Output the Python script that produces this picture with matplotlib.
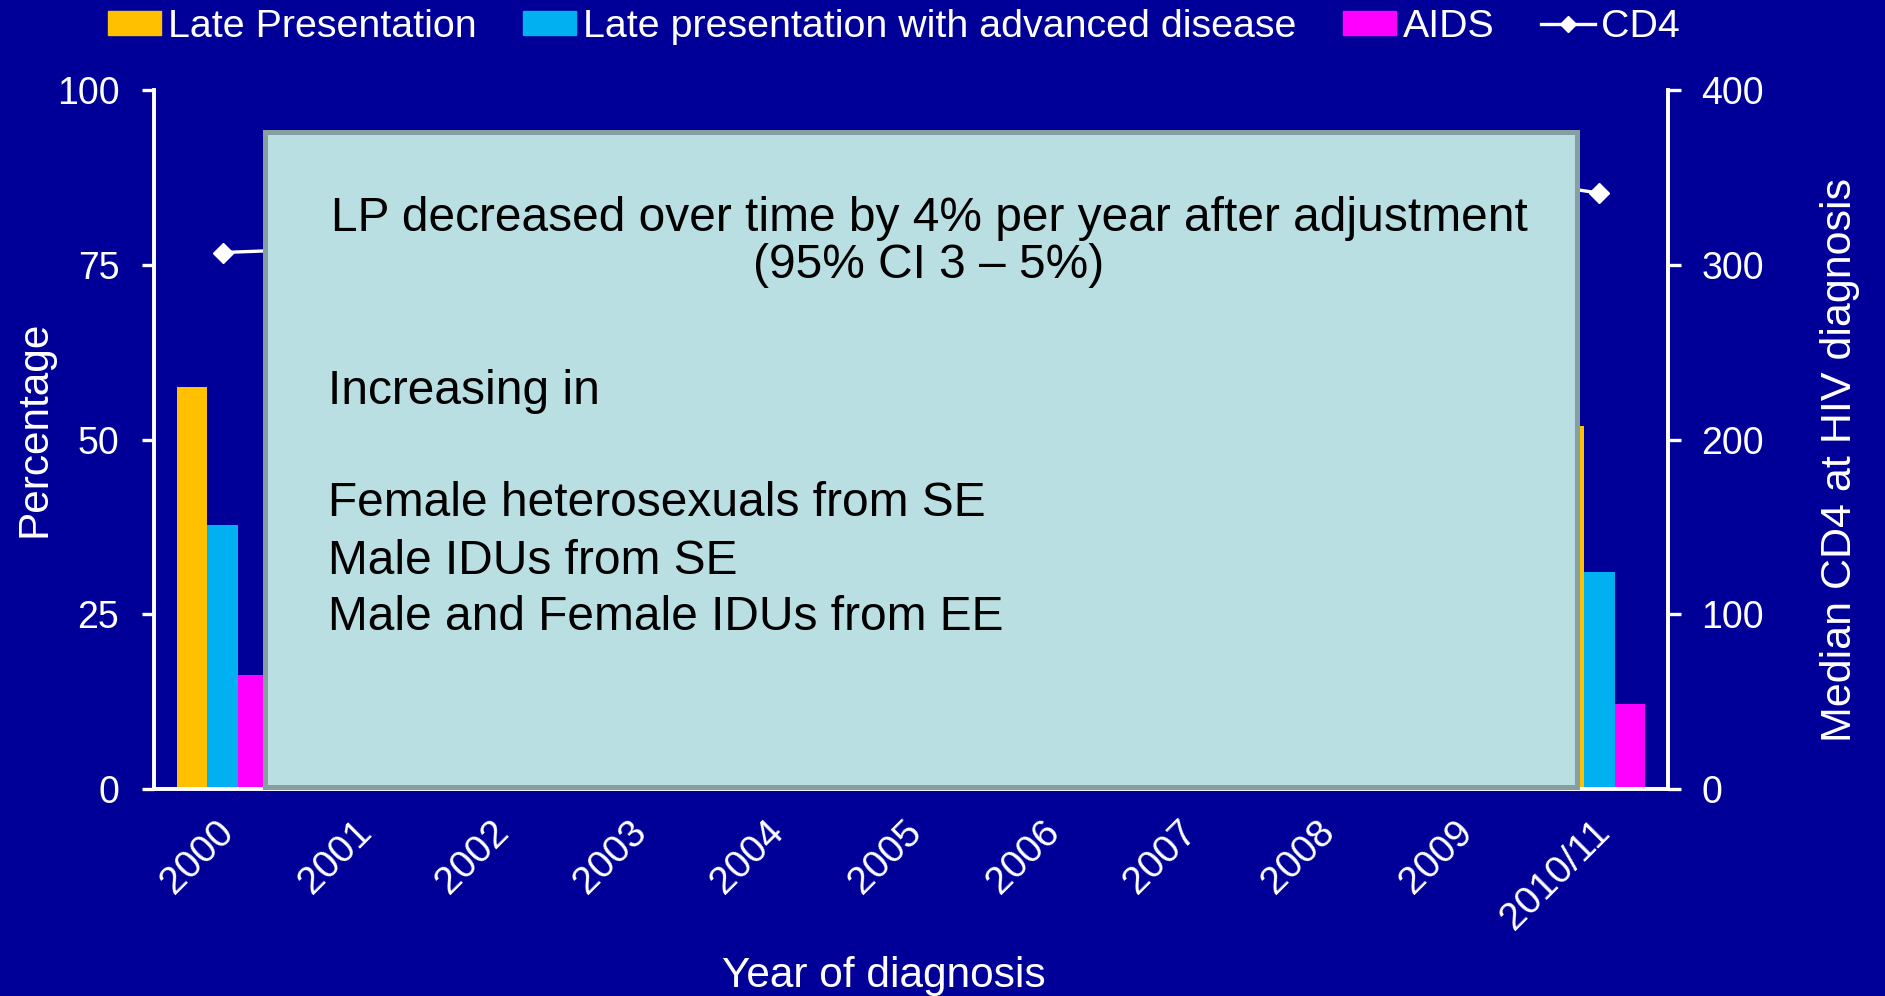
import matplotlib
matplotlib.use("Agg")
import matplotlib.pyplot as plt
from matplotlib.patches import Rectangle, Patch
from matplotlib.lines import Line2D
from matplotlib.transforms import ScaledTranslation
import numpy as np

plt.rcParams['font.family'] = ['Liberation Sans', 'DejaVu Sans']

# data (years 2001-2009 are hidden behind the text box in the original)
years = ['2000', '2001', '2002', '2003', '2004', '2005', '2006', '2007', '2008', '2009', '2010/11']
late_pres = [57.5, 56.5, 55.8, 55.0, 54.6, 54.0, 53.4, 53.0, 52.6, 52.2, 51.9]
late_adv = [37.8, 37.0, 36.2, 35.5, 34.8, 34.0, 33.5, 32.8, 32.2, 31.6, 31.1]
aids = [16.3, 15.9, 15.4, 15.0, 14.6, 14.1, 13.7, 13.3, 12.9, 12.5, 12.2]
cd4 = [307, 310, 314, 318, 322, 326, 331, 337, 345, 353, 341]

bg = '#000099'
c_lp = '#FFC000'
c_adv = '#00B0F0'
c_aids = '#FF00FF'

W, H = 1885, 996
fig = plt.figure(figsize=(W / 100, H / 100), dpi=100, facecolor=bg)

def fx(px):
    return px / W

def fy(py):
    return 1 - py / H

ax = fig.add_axes([fx(154), fy(789), fx(1668) - fx(154), fy(90) - fy(789)])
ax.set_facecolor('none')
ax2 = ax.twinx()
ax2.set_facecolor('none')

x = np.arange(len(years))
bw = 0.223
ax.bar(x - bw, late_pres, bw, color=c_lp, linewidth=0)
ax.bar(x, late_adv, bw, color=c_adv, linewidth=0)
ax.bar(x + bw, aids, bw, color=c_aids, linewidth=0)
ax2.plot(x, cd4, color='white', lw=2.4, marker='D', ms=10, mec='white', mfc='white')

ax.set_xlim(-0.5, len(years) - 0.5)
ax.set_ylim(0, 100)
ax2.set_ylim(0, 400)
ax.set_yticks([0, 25, 50, 75, 100])
ax2.set_yticks([0, 100, 200, 300, 400])
ax.set_xticks(x)
ax.set_xticklabels([])

# rotated year labels, nudged right like the original slide
lab_tr = ax.get_xaxis_transform() + ScaledTranslation(18 / 100, -25 / 100, fig.dpi_scale_trans)
for i, yr in zip(x, years):
    ax.text(i, 0, yr, transform=lab_tr, rotation=45, ha='right', va='top',
            color='white', fontsize=28, clip_on=False)

for a in (ax, ax2):
    for s in a.spines.values():
        s.set_color('white')
        s.set_linewidth(2.6)
    a.spines['top'].set_visible(False)
ax.tick_params(axis='y', colors='white', labelsize=27, length=9, width=2.4, pad=16)
ax2.tick_params(axis='y', colors='white', labelsize=27, length=9, width=2.4, pad=15)
ax.tick_params(axis='x', length=0)

fig.text(fx(34), fy(429), 'Percentage', rotation=90, color='white', fontsize=30.5,
         ha='center', va='center')
fig.text(fx(1840), fy(460), 'Median CD4 at HIV diagnosis', rotation=90, color='white',
         fontsize=31, ha='center', va='center')
fig.text(fx(884), fy(987), 'Year of diagnosis', color='white', fontsize=30.5,
         ha='center', va='baseline')

handles = [Patch(color=c_lp), Patch(color=c_adv), Patch(color=c_aids),
           Line2D([], [], color='white', lw=2.4, marker='D', ms=8)]
labels = ['Late Presentation', 'Late presentation with advanced disease', 'AIDS', 'CD4']
fig.legend(handles, labels, loc='upper left', bbox_to_anchor=(fx(108), fy(9)), ncol=4,
           frameon=False, fontsize=28.4, labelcolor='white', borderpad=0, borderaxespad=0,
           handlelength=1.35, handleheight=0.58, handletextpad=0.17, columnspacing=1.18)

# text box over the chart
box = Rectangle((fx(264.5), fy(787.5)), fx(1576.5) - fx(264.5), fy(132.5) - fy(787.5),
                transform=fig.transFigure, facecolor='#B9DFE2', edgecolor='#889FA1',
                linewidth=3.6, zorder=5)
fig.add_artist(box)

fs = 34.5
fig.text(fx(929), fy(218), 'LP decreased over time by 4% per year after adjustment',
         fontsize=fs, ha='center', va='center', color='black', zorder=6)
fig.text(fx(929), fy(266), '(95% CI 3 \u2013 5%)', fontsize=fs, ha='center', va='center',
         color='black', zorder=6)
fig.text(fx(328), fy(391), 'Increasing in', fontsize=fs, ha='left', va='center', zorder=6)
fig.text(fx(328), fy(504), 'Female heterosexuals from SE', fontsize=fs, ha='left',
         va='center', zorder=6)
fig.text(fx(328), fy(561), 'Male IDUs from SE', fontsize=fs, ha='left', va='center', zorder=6)
fig.text(fx(328), fy(617), 'Male and Female IDUs from EE', fontsize=fs, ha='left',
         va='center', zorder=6)

fig.savefig('out.png', dpi=100, facecolor=bg)
